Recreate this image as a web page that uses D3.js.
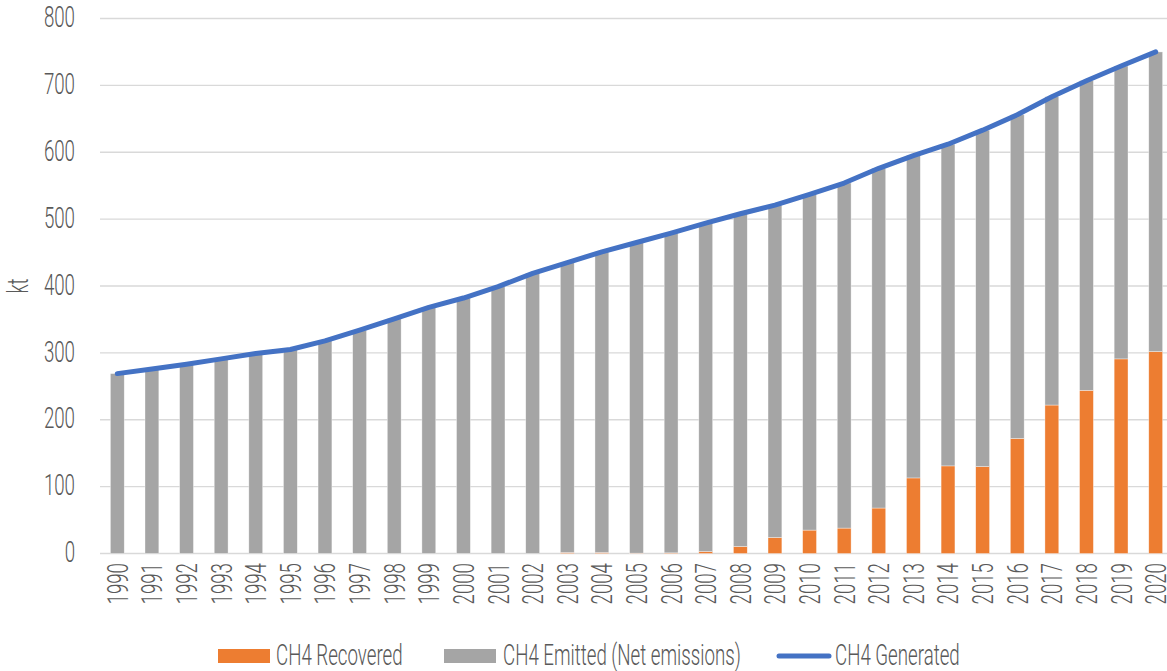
<!DOCTYPE html>
<html>
<head>
<meta charset="utf-8">
<script src="https://cdn.jsdelivr.net/npm/d3@7"></script>
<style>
html,body{margin:0;padding:0;background:#fff;}
svg{display:block;}
text{font-family:Roboto,"Liberation Sans",sans-serif;font-weight:300;fill:#595959;}
</style>
</head>
<body>
<svg id="chart" width="1167" height="671"></svg>
<script>
const years = ["1990","1991","1992","1993","1994","1995","1996","1997","1998","1999","2000","2001","2002","2003","2004","2005","2006","2007","2008","2009","2010","2011","2012","2013","2014","2015","2016","2017","2018","2019","2020"];
const recovered = [0,0,0,0,0,0,0,0,0,0,0,0,0,1.5,1.5,0.5,1,3,10.5,24,35,38,68,113,131,130,172,222,244,291,302];
const emitted = [269,276,283,291,299,305,318,334,351,368,382,399,419,433.5,449.5,464.5,478,491,497.5,497,502,516,508,482,481,503,484,461,463,438,448];
const generated = [269,276,283,291,299,305,318,334,351,368,382,399,419,435,451,465,479,494,508,521,537,554,576,595,612,633,656,683,707,729,750];
const yTicks = [0,100,200,300,400,500,600,700,800];
const seriesNames = ["CH4 Recovered","CH4 Emitted (Net emissions)","CH4 Generated"];
const colors = {rec:"#ed7d31", emi:"#a5a5a5", gen:"#4472c4"};

const svg = d3.select("#chart");
const FS = 29, SX = 0.645;

const x = d3.scaleBand().domain(years).range([100,1173]).paddingInner(0.6).paddingOuter(0.3);
const y = d3.scaleLinear().domain([0,800]).range([553.5,18.5]);

// gridlines
svg.append("g").selectAll("line").data(yTicks).join("line")
  .attr("x1",100).attr("x2",1167)
  .attr("y1",d=>y(d)).attr("y2",d=>y(d))
  .attr("stroke","#d9d9d9").attr("stroke-width",1.4);

// y tick labels
svg.append("g").selectAll("g").data(yTicks).join("g")
  .attr("transform",d=>`translate(75,${y(d)}) scale(${SX},1)`)
  .append("text").attr("text-anchor","end").attr("dy","0.3em")
  .style("font-size",FS+"px").text(d=>d);

// y axis title
svg.append("g").attr("transform","translate(28,286) rotate(-90) scale("+SX+",1)")
  .append("text").attr("text-anchor","middle").style("font-size",FS+"px").text("kt");

// stacked bars
const stackData = years.map((yr,i)=>({year:yr, rec:recovered[i], emi:emitted[i]}));
const stack = d3.stack().keys(["rec","emi"])(stackData);
svg.append("g").selectAll("g").data(stack).join("g")
  .attr("fill",d=>colors[d.key])
  .selectAll("rect").data(d=>d).join("rect")
  .attr("x",d=>x(d.data.year))
  .attr("width",x.bandwidth())
  .attr("y",d=>y(d[1]))
  .attr("height",d=>Math.max(0,y(d[0])-y(d[1])))
  .attr("stroke","#ffffff").attr("stroke-width",0.6).attr("stroke-opacity",0.6);

// line
const line = d3.line().x((d,i)=>x(years[i])+x.bandwidth()/2).y(d=>y(d));
svg.append("path").datum(generated).attr("d",line)
  .attr("fill","none").attr("stroke",colors.gen).attr("stroke-width",5)
  .attr("stroke-linecap","round").attr("stroke-linejoin","round");

// x labels
svg.append("g").selectAll("g").data(years).join("g")
  .attr("transform",d=>`translate(${x(d)+x.bandwidth()/2},563) rotate(-90) scale(${SX},1)`)
  .append("text").attr("text-anchor","end").attr("dy","0.36em")
  .style("font-size",FS+"px").text(d=>d);

// legend
const lg = svg.append("g");
lg.append("rect").attr("x",218).attr("y",649).attr("width",52).attr("height",14).attr("fill",colors.rec);
lg.append("g").attr("transform",`translate(276,665) scale(${SX},1)`).append("text").style("font-size",FS+"px").text(seriesNames[0]);
lg.append("rect").attr("x",444).attr("y",649).attr("width",52).attr("height",14).attr("fill",colors.emi);
lg.append("g").attr("transform",`translate(503,665) scale(${SX},1)`).append("text").style("font-size",FS+"px").text(seriesNames[1]);
lg.append("line").attr("x1",779).attr("x2",829).attr("y1",656).attr("y2",656)
  .attr("stroke",colors.gen).attr("stroke-width",5).attr("stroke-linecap","round");
lg.append("g").attr("transform",`translate(835,665) scale(${SX},1)`).append("text").style("font-size",FS+"px").text(seriesNames[2]);
</script>
</body>
</html>
